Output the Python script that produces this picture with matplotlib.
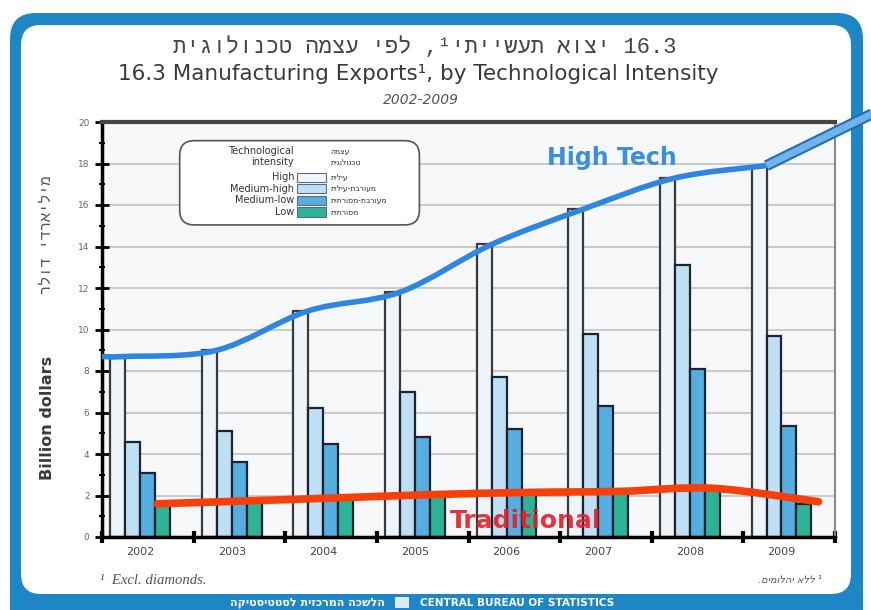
import numpy as np
import matplotlib
matplotlib.use("Agg")
import matplotlib.pyplot as plt
from matplotlib.patches import FancyBboxPatch, Rectangle
from matplotlib.path import Path
from matplotlib.patches import PathPatch

# ---------------- data ----------------
years = ["2002", "2003", "2004", "2005", "2006", "2007", "2008", "2009"]
high = [8.7, 9.0, 10.9, 11.8, 14.1, 15.8, 17.3, 17.9]
medium_high = [4.6, 5.1, 6.2, 7.0, 7.7, 9.8, 13.1, 9.7]
medium_low = [3.1, 3.6, 4.5, 4.8, 5.2, 6.3, 8.1, 5.35]
low = [1.6, 1.7, 1.9, 2.0, 2.1, 2.15, 2.3, 1.6]
traditional = [1.6, 1.75, 1.9, 2.05, 2.15, 2.2, 2.35, 1.7]

series_en = ["High", "Medium-high", "Medium-low", "Low"]
series_he = ["עילית", "מעורבת-עילית", "מעורבת-מסורתית", "מסורתית"]
colors = ["#eef5fa", "#bfe0f4", "#56ade0", "#2fb398"]

yticks = list(range(0, 21, 2))


def vis(s):
    """Hebrew logical -> visual (LTR) order."""
    return s[::-1]


HEB = ["Liberation Mono", "DejaVu Sans"]

fig = plt.figure(figsize=(8.71, 6.10), dpi=100, facecolor="white")
renderer = fig.canvas.get_renderer()


def fit_width(t, target_px):
    w = t.get_window_extent(renderer=renderer).width
    t.set_fontsize(t.get_fontsize() * target_px / w)


# ---------------- background / frame in pixel space ----------------
bg = fig.add_axes([0, 0, 1, 1], zorder=0)
bg.set_xlim(0, 871)
bg.set_ylim(610, 0)
bg.axis("off")
frame_blue = "#1f86c6"
bg.add_patch(FancyBboxPatch((10, 13), 853, 640, boxstyle="round,pad=0,rounding_size=26",
                            fc=frame_blue, ec="none"))
bg.add_patch(FancyBboxPatch((21, 25), 830, 569, boxstyle="round,pad=0,rounding_size=20",
                            fc="white", ec="none"))

# titles
t1 = bg.text(425, 47, vis("יצוא תעשייתי¹, לפי עצמה טכנולוגית") + " 16.3", ha="center",
             va="center", fontsize=16, color="#444444", family=HEB)
fit_width(t1, 504)
bg.text(418, 74, "16.3 Manufacturing Exports¹, by Technological Intensity", ha="center",
        va="center", fontsize=15.5, color="#3a3a3a", family="DejaVu Sans")
bg.text(421, 100, "2002-2009", ha="center", va="center", fontsize=10, color="#555555",
        style="italic", family="DejaVu Sans")

# y labels
bg.text(47, 418, "Billion dollars", rotation=90, ha="center", va="center", fontsize=11.5,
        color="#3a3a3a", fontweight="bold", family="DejaVu Sans")
bg.text(47, 235, vis("מיליארדי דולר"), rotation=90, ha="center", va="center", fontsize=11,
        color="#555555", family=HEB)

# footnotes
f1 = bg.text(100, 580, "¹  Excl. diamonds.", ha="left", va="center", fontsize=9,
             color="#555555", style="italic", family="Liberation Serif")
fit_width(f1, 106)
f2 = bg.text(822, 580, "." + vis("ללא יהלומים") + " ¹", ha="right", va="center", fontsize=7,
             color="#555555", family=["DejaVu Sans"], style="italic")
fit_width(f2, 64)

# banner
bg.text(385, 602.5, vis("הלשכה המרכזית לסטטיסטיקה"), ha="right", va="center",
        fontsize=8, color="white", fontweight="bold", family=["DejaVu Sans"])
bg.add_patch(Rectangle((395, 597), 14, 11, fc="white", ec="none", alpha=0.85))
bg.text(420, 602.5, "CENTRAL BUREAU OF STATISTICS", ha="left", va="center", fontsize=7.5,
        color="white", fontweight="bold", family="DejaVu Sans")

# ---------------- main axes ----------------
ax = fig.add_axes([102 / 871, 1 - 537 / 610, 733 / 871, 415 / 610], zorder=1)
ax.set_facecolor("#f5f7f9")
ax.set_xlim(0, 8)
ax.set_ylim(0, 20)

x = np.arange(len(years))
bw = 0.163
off = 0.09
all_series = [high, medium_high, medium_low, low]
edges = ["#3a3a3a", "#1b2430", "#1b2430", "#1b2430"]
for k, vals in enumerate(all_series):
    ax.bar(x + off + k * bw, vals, width=bw, align="edge", color=colors[k],
           edgecolor=edges[k], linewidth=1.6, zorder=2)

ax.set_axisbelow(True)
ax.yaxis.grid(True, color="#c9c9c9", linewidth=1.4)
ax.xaxis.grid(False)

ax.set_yticks(yticks)
ax.set_yticks(range(1, 20, 2), minor=True)
ax.tick_params(axis="y", which="major", direction="inout", length=10, width=2, color="black",
               labelsize=6.5, labelcolor="#666666", pad=4)
ax.tick_params(axis="y", which="minor", direction="inout", length=5, width=1.5, color="black")

ax.set_xticks(range(0, 9))
ax.set_xticklabels([])
ax.set_xticks(x + off + 2 * bw, minor=True)
ax.set_xticklabels(years, minor=True)
ax.tick_params(axis="x", which="major", direction="inout", length=8, width=3, color="black")
ax.tick_params(axis="x", which="minor", length=0, labelsize=8, labelcolor="#444444", pad=7)

for s, (c, lw) in {"left": ("black", 2.5), "bottom": ("black", 2.5),
                   "top": ("#444444", 3), "right": ("#888888", 1.5)}.items():
    ax.spines[s].set_color(c)
    ax.spines[s].set_linewidth(lw)


def smooth_path(px, py):
    pts = np.column_stack([px, py]).astype(float)
    verts = [pts[0]]
    codes = [Path.MOVETO]
    n = len(pts)
    for i in range(n - 1):
        p0 = pts[i - 1] if i > 0 else pts[i]
        p1 = pts[i]
        p2 = pts[i + 1]
        p3 = pts[i + 2] if i + 2 < n else pts[i + 1]
        c1 = p1 + (p2 - p0) / 6.0
        c2 = p2 - (p3 - p1) / 6.0
        verts += [c1, c2, p2]
        codes += [Path.CURVE4] * 3
    return Path(verts, codes)


# High tech trend line
hx = [0.0] + list(x + off + bw)
hy = [high[0]] + high
ax.add_patch(PathPatch(smooth_path(hx, hy), fill=False, ec="#2f86e0", lw=4,
                       capstyle="round", zorder=4))
# pencil extension
px0, py0 = x[-1] + off + bw, high[-1]
ax.plot([px0, px0 + 1.27], [py0, py0 + 2.75], color="#1f6fb8", lw=8,
        solid_capstyle="butt", clip_on=False, zorder=5)
ax.plot([px0, px0 + 1.27], [py0, py0 + 2.75], color="#6fb3ea", lw=5,
        solid_capstyle="butt", clip_on=False, zorder=6)

# Traditional line
tx = list(x + off + 3.5 * bw)
tx[0] -= 0.06
tx[-1] += 0.16
ax.add_patch(PathPatch(smooth_path(tx, traditional), fill=False, ec="#f5400c", lw=5.5,
                       capstyle="round", zorder=4))

ax.text(5.57, 18.25, "High Tech", ha="center", va="center", fontsize=17, fontweight="bold",
        color="#3d8fdb", family="DejaVu Sans", zorder=6)
ax.text(4.62, 0.75, "Traditional", ha="center", va="center", fontsize=18, fontweight="bold",
        color="#e31e2a", family="DejaVu Sans", zorder=6, alpha=0.9)

# ---------------- legend (manual) ----------------
lg = FancyBboxPatch((0.106, 0.752), 0.327, 0.203, boxstyle="round,pad=0,rounding_size=0.02",
                    transform=ax.transAxes, fc="white", ec="#555555", lw=1.2, zorder=7,
                    mutation_aspect=733 / 415)
ax.add_patch(lg)
tr = ax.transAxes
lx_text = 0.262
patch_x0, patch_w = 0.266, 0.04
heb_x = 0.312
ax.text(lx_text, 0.930, "Technological", ha="right", va="center", fontsize=7, color="#333333",
        transform=tr, zorder=8)
ax.text(lx_text, 0.903, "intensity", ha="right", va="center", fontsize=7, color="#333333",
        transform=tr, zorder=8)
ax.text(heb_x, 0.930, vis("עצמה"), ha="left", va="center", fontsize=5.5, color="#333333",
        transform=tr, zorder=8, family=["DejaVu Sans"])
ax.text(heb_x, 0.903, vis("טכנולוגית"), ha="left", va="center", fontsize=5.5, color="#333333",
        transform=tr, zorder=8, family=["DejaVu Sans"])
row_y = [0.867, 0.839, 0.811, 0.783]
for k in range(4):
    ax.text(lx_text, row_y[k], series_en[k], ha="right", va="center", fontsize=7,
            color="#333333", transform=tr, zorder=8)
    ax.add_patch(Rectangle((patch_x0, row_y[k] - 0.011), patch_w, 0.022, transform=tr,
                           fc=colors[k], ec="#5a6a7a", lw=0.8, zorder=8))
    ax.text(heb_x, row_y[k], vis(series_he[k]), ha="left", va="center", fontsize=5.5,
            color="#333333", transform=tr, zorder=8, family=["DejaVu Sans"])

fig.savefig("out.png", dpi=100, facecolor="white")
